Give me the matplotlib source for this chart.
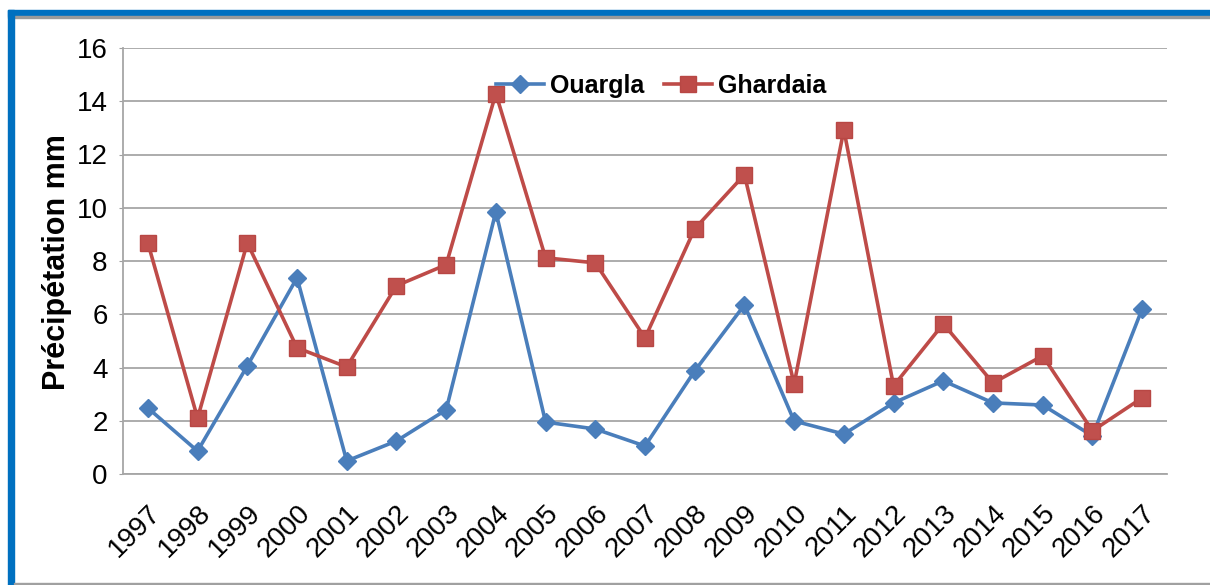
import matplotlib
matplotlib.use("Agg")
import matplotlib.pyplot as plt
from matplotlib.patches import Rectangle
from matplotlib.lines import Line2D

years = [str(y) for y in range(1997, 2018)]
ouargla = [2.48, 0.86, 4.06, 7.37, 0.49, 1.24, 2.41, 9.85, 1.95, 1.69, 1.05,
           3.87, 6.35, 1.99, 1.50, 2.67, 3.50, 2.67, 2.59, 1.43, 6.20]
ghardaia = [8.68, 2.10, 8.68, 4.74, 4.02, 7.07, 7.86, 14.29, 8.12, 7.93, 5.11,
            9.21, 11.24, 3.38, 12.93, 3.31, 5.64, 3.42, 4.44, 1.62, 2.86]
yticks = [0, 2, 4, 6, 8, 10, 12, 14, 16]

plt.rcParams['font.family'] = ['Liberation Sans', 'DejaVu Sans']

W, H = 1210, 585
fig = plt.figure(figsize=(W / 100, H / 100), dpi=100)

# frame decorations
fig.patches.append(Rectangle((8 / W, 1 - 16 / H), 1 - 8 / W, 6 / H, transform=fig.transFigure,
                             color='#0070C0', zorder=0))
fig.patches.append(Rectangle((8 / W, 1 - 18 / H), 1 - 8 / W, 2 / H, transform=fig.transFigure,
                             color='#9a9a9a', zorder=0))
fig.patches.append(Rectangle((8 / W, 0), 6 / W, 1 - 10 / H, transform=fig.transFigure,
                             color='#0070C0', zorder=0))
fig.patches.append(Rectangle((14 / W, 1 / H), 1 - 14 / W, 1.5 / H, transform=fig.transFigure,
                             color='#a0a0a0', zorder=0))

ax = fig.add_axes([123 / W, (H - 474) / H, (1167 - 123) / W, (474 - 48) / H])
x = list(range(len(years)))
ax.plot(x, ouargla, color='#4A7EBB', lw=2.6, marker='D', ms=9.5,
        markerfacecolor='#4A7EBB', markeredgecolor='#4A7EBB', label='Ouargla', zorder=3)
ax.plot(x, ghardaia, color='#BE4B48', lw=2.6, marker='s', ms=11,
        markerfacecolor='#C0504D', markeredgecolor='#B84744', label='Ghardaia', zorder=4)

ax.set_xlim(-0.5, len(years) - 0.5)
ax.set_ylim(0, 16)
ax.set_yticks(yticks)
ax.set_yticklabels([str(v) for v in yticks], fontsize=20)
ax.set_xticks(x)
ax.set_xticklabels(years, rotation=45, ha='right', rotation_mode='anchor', fontsize=20)
ax.tick_params(axis='x', length=0, pad=19)
ax.tick_params(axis='y', length=3, color='#a0a0a0', pad=8)
ax.grid(axis='y', color='#a6a6a6', lw=1.3)
ax.set_axisbelow(True)
for s in ['top', 'right']:
    ax.spines[s].set_visible(False)
for s in ['left', 'bottom']:
    ax.spines[s].set_color('#a6a6a6')
    ax.spines[s].set_linewidth(1.3)

fig.text(57 / W, 1 - 262 / H, 'Précipétation mm', rotation=90, ha='center', va='center',
         fontsize=22, fontweight='bold')

handles = [
    Line2D([], [], color='#4A7EBB', lw=2.6, marker='D', ms=9.5, markeredgecolor='#4A7EBB'),
    Line2D([], [], color='#BE4B48', lw=2.6, marker='s', ms=11, markeredgecolor='#B84744'),
]
leg = ax.legend(handles, ['Ouargla', 'Ghardaia'], loc='center', bbox_to_anchor=(661 / W, 1 - 86 / H),
                bbox_transform=fig.transFigure, ncol=2, frameon=False,
                prop={'size': 18, 'weight': 'bold'}, handlelength=1.9, handletextpad=0.25,
                columnspacing=0.8)

fig.savefig('out.png', dpi=100, facecolor='white')
